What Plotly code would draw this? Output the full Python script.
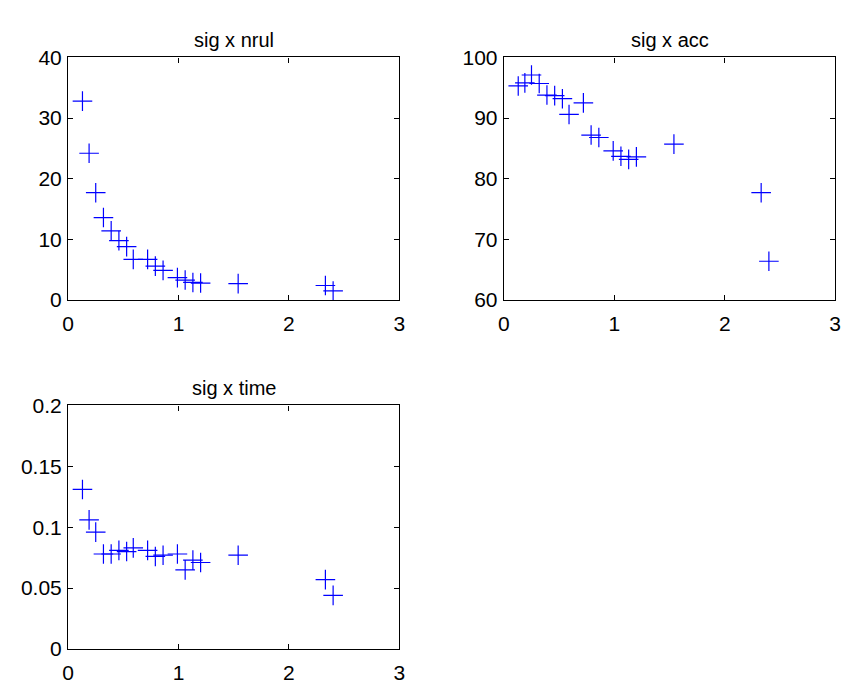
import plotly.graph_objects as go

sig = [0.13, 0.19, 0.25, 0.32, 0.39, 0.46, 0.53, 0.59, 0.72, 0.79, 0.86, 0.99, 1.06, 1.13, 1.2, 1.54, 2.33, 2.4]
nrul = [32.8, 24.2, 17.7, 13.6, 11.4, 9.8, 8.8, 6.7, 6.7, 5.6, 4.9, 3.7, 3.3, 2.9, 2.8, 2.7, 2.4, 1.5]
acc = [95.3, 95.8, 97.1, 95.7, 93.8, 93.7, 93.2, 90.6, 92.5, 87.2, 86.8, 84.6, 83.7, 83.2, 83.6, 85.7, 77.7, 66.4]
time = [0.131, 0.106, 0.096, 0.078, 0.078, 0.081, 0.080, 0.083, 0.081, 0.076, 0.077, 0.078, 0.065, 0.073, 0.071, 0.077, 0.057, 0.044]

titles = ["sig x nrul", "sig x acc", "sig x time"]

W, H = 851, 689
FONT = "Liberation Sans, Arial, sans-serif"

fig = go.Figure()

panels = [
    (nrul, (63, 399), (47, 298), [0, 40], [0, 10, 20, 30, 40], ["0", "10", "20", "30", "40"], titles[0]),
    (acc, (505, 841), (47, 298), [60, 100], [60, 70, 80, 90, 100], ["60", "70", "80", "90", "100"], titles[1]),
    (time, (63, 399), (407, 659), [0, 0.2], [0, 0.05, 0.1, 0.15, 0.2], ["0", "0.05", "0.1", "0.15", "0.2"], titles[2]),
]

layout = {}
for i, (yd, (x0, x1), (yt, yb), yr, yticks, ytext, title) in enumerate(panels):
    n = "" if i == 0 else str(i + 1)
    xa, ya = "x" + n, "y" + n
    fig.add_trace(go.Scatter(
        x=sig, y=yd, mode="markers", xaxis=xa, yaxis=ya,
        marker=dict(symbol="cross-thin", size=14, line=dict(color="#0000FF", width=1.2)),
        showlegend=False, hoverinfo="x+y",
    ))
    common = dict(showgrid=False, zeroline=False, showline=True, linecolor="black", linewidth=1.3,
                  mirror="ticks", ticks="inside", ticklen=5, tickcolor="black", tickwidth=1.3,
                  tickfont=dict(family=FONT, size=21, color="black"))
    layout["xaxis" + n] = dict(domain=[x0 / W, x1 / W], range=[0, 3], tickvals=[0, 1, 2, 3],
                                ticktext=["0", "1", "2", "3"], anchor=ya, ticklabelstandoff=5, **common)
    layout["yaxis" + n] = dict(domain=[1 - yb / H, 1 - yt / H], range=yr, tickvals=yticks,
                                ticktext=ytext, anchor=xa, ticklabelstandoff=1, **common)
    fig.add_annotation(text=title, x=(x0 + x1) / 2 / W, y=1 - (yt - 18) / H, xref="paper", yref="paper",
                       showarrow=False, font=dict(family=FONT, size=20, color="black"),
                       xanchor="center", yanchor="middle")

fig.update_layout(**layout)
fig.update_layout(width=W, height=H, margin=dict(l=0, r=0, t=0, b=0),
                  paper_bgcolor="white", plot_bgcolor="white",
                  font=dict(family=FONT, size=19, color="black"))

fig.write_html("out.html")
